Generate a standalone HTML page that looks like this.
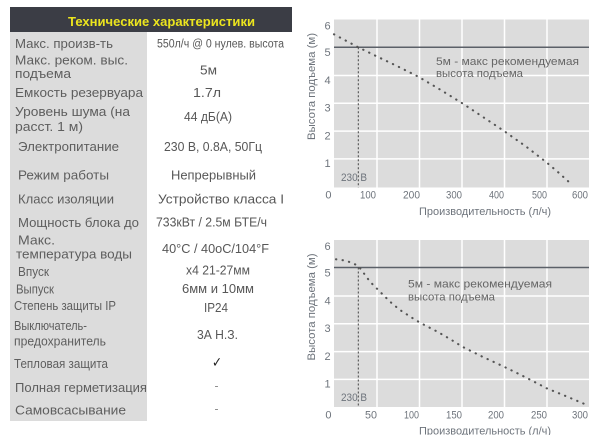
<!DOCTYPE html>
<html><head><meta charset="utf-8"><style>
html,body{margin:0;padding:0;background:#fff;}
svg{display:block;}
</style></head><body>
<svg width="600" height="435" viewBox="0 0 600 435" xmlns="http://www.w3.org/2000/svg" font-family="Liberation Sans, DejaVu Sans, sans-serif">
<rect x="0" y="0" width="600" height="435" fill="#ffffff"/>
<!-- table -->
<rect x="10" y="7" width="282" height="25" fill="#3b3d45"/>
<text x="68" y="26" font-size="13" font-weight="bold" fill="#ece51e" textLength="187" lengthAdjust="spacingAndGlyphs">Технические характеристики</text>
<rect x="10" y="32" width="137" height="389" fill="#dcdcdc"/>
<g fill="#5e5e5e" font-size="13">
<text x="15" y="47.8" textLength="98" lengthAdjust="spacingAndGlyphs">Макс. произв-ть</text>
<text x="15" y="64.5" textLength="113" lengthAdjust="spacingAndGlyphs">Макс. реком. выс.</text>
<text x="15" y="78" textLength="56" lengthAdjust="spacingAndGlyphs">подъема</text>
<text x="15" y="97.2" textLength="128" lengthAdjust="spacingAndGlyphs">Емкость резервуара</text>
<text x="15" y="116.2" textLength="115" lengthAdjust="spacingAndGlyphs">Уровень шума (на</text>
<text x="15" y="131.2" textLength="68" lengthAdjust="spacingAndGlyphs">расст. 1 м)</text>
<text x="18" y="151.2" textLength="101" lengthAdjust="spacingAndGlyphs">Электропитание</text>
<text x="18" y="179.5" textLength="91" lengthAdjust="spacingAndGlyphs">Режим работы</text>
<text x="18" y="203.5" textLength="96" lengthAdjust="spacingAndGlyphs">Класс изоляции</text>
<text x="18" y="226.8" textLength="121" lengthAdjust="spacingAndGlyphs">Мощность блока до</text>
<text x="18" y="244.5" textLength="37" lengthAdjust="spacingAndGlyphs">Макс.</text>
<text x="16" y="258.5" textLength="116" lengthAdjust="spacingAndGlyphs">температура воды</text>
</g>
<g fill="#5e5e5e" font-size="13">
<text x="18" y="276.2" textLength="31" lengthAdjust="spacingAndGlyphs">Впуск</text>
<text x="16" y="293.5" textLength="38" lengthAdjust="spacingAndGlyphs">Выпуск</text>
<text x="14" y="310.2" textLength="102" lengthAdjust="spacingAndGlyphs">Степень защиты IP</text>
<text x="14" y="330.2" textLength="73" lengthAdjust="spacingAndGlyphs">Выключатель-</text>
<text x="14" y="345.5" textLength="92" lengthAdjust="spacingAndGlyphs">предохранитель</text>
<text x="14" y="367.8" textLength="94" lengthAdjust="spacingAndGlyphs">Тепловая защита</text>
</g>
<g fill="#5e5e5e" font-size="13">
<text x="15" y="391.8" textLength="132" lengthAdjust="spacingAndGlyphs">Полная герметизация</text>
<text x="15" y="414.5" textLength="111" lengthAdjust="spacingAndGlyphs">Самовсасывание</text>
</g>
<g fill="#575757" font-size="12.5">
<text x="157" y="47.6" font-size="11.5" textLength="127" lengthAdjust="spacingAndGlyphs">550л/ч @ 0 нулев. высота</text>
<text x="200" y="74.5" textLength="17" lengthAdjust="spacingAndGlyphs">5м</text>
<text x="193" y="97.2" textLength="28" lengthAdjust="spacingAndGlyphs">1.7л</text>
<text x="184" y="121.2" textLength="48" lengthAdjust="spacingAndGlyphs">44 дБ(А)</text>
<text x="164" y="151.2" textLength="98" lengthAdjust="spacingAndGlyphs">230 В, 0.8А, 50Гц</text>
<text x="171" y="179.5" textLength="85" lengthAdjust="spacingAndGlyphs">Непрерывный</text>
<text x="158" y="203.5" textLength="126" lengthAdjust="spacingAndGlyphs">Устройство класса I</text>
<text x="156" y="226.5" textLength="111" lengthAdjust="spacingAndGlyphs">733кВт / 2.5м БТЕ/ч</text>
<text x="162" y="252.8" textLength="107" lengthAdjust="spacingAndGlyphs">40°C / 40oC/104°F</text>
<text x="186" y="274.5" textLength="64" lengthAdjust="spacingAndGlyphs">х4 21-27мм</text>
<text x="182" y="292.8" textLength="72" lengthAdjust="spacingAndGlyphs">6мм и 10мм</text>
<text x="204" y="311.8" textLength="24" lengthAdjust="spacingAndGlyphs">IP24</text>
<text x="197" y="338.8" textLength="41" lengthAdjust="spacingAndGlyphs">3А Н.З.</text>
<text x="212" y="367" font-size="14" fill="#222" textLength="10" lengthAdjust="spacingAndGlyphs">✓</text>
<text x="214.5" y="389.5" font-size="12" fill="#888">-</text>
<text x="214.5" y="412.5" font-size="12" fill="#888">-</text>
</g>

<!-- chart 1 -->
<g>
<rect x="334" y="19.5" width="255" height="168" fill="#dcdcdc"/>
<g stroke="#ffffff" stroke-width="1.5">
<line x1="377" y1="19.5" x2="377" y2="187.5"/>
<line x1="419.5" y1="19.5" x2="419.5" y2="187.5"/>
<line x1="462" y1="19.5" x2="462" y2="187.5"/>
<line x1="504.5" y1="19.5" x2="504.5" y2="187.5"/>
<line x1="547" y1="19.5" x2="547" y2="187.5"/>
<line x1="334" y1="75.5" x2="589" y2="75.5"/>
<line x1="334" y1="103.3" x2="589" y2="103.3"/>
<line x1="334" y1="131.1" x2="589" y2="131.1"/>
<line x1="334" y1="158.9" x2="589" y2="158.9"/>
</g>
<line x1="334" y1="47.3" x2="589" y2="47.3" stroke="#5b6068" stroke-width="1.5"/>
<line x1="358.3" y1="47.3" x2="358.3" y2="187.5" stroke="#444" stroke-width="1" stroke-dasharray="2 2"/>
<polyline points="334,34.3 358.3,47.3 376,56 398,66.5 418.3,76.7 440,89.5 462.3,103.3 483,117 504,131 526,146.5 546.7,162.5 559,173 571.7,184.5" fill="none" stroke="#555" stroke-width="2.1" stroke-linecap="round" stroke-dasharray="0.3 6.3"/>
<g fill="#6e747c" font-size="11">
<text x="324.5" y="29.5">6</text>
<text x="324.5" y="56">5</text>
<text x="324.5" y="84">4</text>
<text x="324.5" y="111.5">3</text>
<text x="324.5" y="139.3">2</text>
<text x="324.5" y="167">1</text>
<g text-anchor="end">
<text x="331.5" y="198.5">0</text>
<text x="376" y="198.5" textLength="16" lengthAdjust="spacingAndGlyphs">100</text>
<text x="420" y="198.5" textLength="17" lengthAdjust="spacingAndGlyphs">200</text>
<text x="462" y="198.5" textLength="16" lengthAdjust="spacingAndGlyphs">300</text>
<text x="504" y="198.5" textLength="15" lengthAdjust="spacingAndGlyphs">400</text>
<text x="547" y="198.5" textLength="15" lengthAdjust="spacingAndGlyphs">500</text>
<text x="588" y="198.5" textLength="16" lengthAdjust="spacingAndGlyphs">600</text>
</g>
<text x="341" y="180.8" textLength="26" lengthAdjust="spacingAndGlyphs">230 В</text>
<text x="419" y="215" textLength="132" lengthAdjust="spacingAndGlyphs">Производительность (л/ч)</text>
<text transform="translate(315,140) rotate(-90)" x="0" y="0" textLength="107" lengthAdjust="spacingAndGlyphs">Высота подъема (м)</text>
</g>
<g fill="#666" font-size="11">
<text x="436" y="65" textLength="143" lengthAdjust="spacingAndGlyphs">5м - макс рекомендуемая</text>
<text x="436" y="77" textLength="87" lengthAdjust="spacingAndGlyphs">высота подъема</text>
</g>
</g>

<!-- chart 2 -->
<g transform="translate(0,220.5)">
<rect x="334" y="19.5" width="255" height="167" fill="#dcdcdc"/>
<g stroke="#ffffff" stroke-width="1.5">
<line x1="377" y1="19.5" x2="377" y2="186.5"/>
<line x1="419.5" y1="19.5" x2="419.5" y2="186.5"/>
<line x1="462" y1="19.5" x2="462" y2="186.5"/>
<line x1="504.5" y1="19.5" x2="504.5" y2="186.5"/>
<line x1="547" y1="19.5" x2="547" y2="186.5"/>
<line x1="334" y1="75.5" x2="589" y2="75.5"/>
<line x1="334" y1="103.3" x2="589" y2="103.3"/>
<line x1="334" y1="131.1" x2="589" y2="131.1"/>
<line x1="334" y1="158.9" x2="589" y2="158.9"/>
</g>
<line x1="334" y1="47" x2="589" y2="47" stroke="#5b6068" stroke-width="1.5"/>
<line x1="358.3" y1="47" x2="358.3" y2="186.5" stroke="#444" stroke-width="1" stroke-dasharray="2 2"/>
<polyline points="336,38.8 345,40 353.3,42.8 359,46.2 364,53 370,61.2 380,71.2 390,81.2 400,89.5 410,96 420,102.2 437,111 450,118.5 462.3,126.2 483,136.5 504,146.2 525,156.5 546.7,167.8 568,176.5 589.3,185.5" fill="none" stroke="#555" stroke-width="2.1" stroke-linecap="round" stroke-dasharray="0.3 6.3"/>
<g fill="#6e747c" font-size="11">
<text x="324.5" y="29.5">6</text>
<text x="324.5" y="56">5</text>
<text x="324.5" y="84">4</text>
<text x="324.5" y="111.5">3</text>
<text x="324.5" y="139.3">2</text>
<text x="324.5" y="167">1</text>
<g text-anchor="end">
<text x="331.5" y="198">0</text>
<text x="377" y="198" textLength="12" lengthAdjust="spacingAndGlyphs">50</text>
<text x="419" y="198" textLength="15" lengthAdjust="spacingAndGlyphs">100</text>
<text x="462" y="198" textLength="16" lengthAdjust="spacingAndGlyphs">150</text>
<text x="504" y="198" textLength="16" lengthAdjust="spacingAndGlyphs">200</text>
<text x="547" y="198" textLength="16" lengthAdjust="spacingAndGlyphs">250</text>
<text x="588" y="198" textLength="16" lengthAdjust="spacingAndGlyphs">300</text>
</g>
<text x="341" y="180.3" textLength="26" lengthAdjust="spacingAndGlyphs">230 В</text>
<text x="419" y="214" textLength="132" lengthAdjust="spacingAndGlyphs">Производительность (л/ч)</text>
<text transform="translate(315,140) rotate(-90)" x="0" y="0" textLength="107" lengthAdjust="spacingAndGlyphs">Высота подъема (м)</text>
</g>
<g fill="#666" font-size="11">
<text x="408" y="67" textLength="144" lengthAdjust="spacingAndGlyphs">5м - макс рекомендуемая</text>
<text x="408" y="80" textLength="87" lengthAdjust="spacingAndGlyphs">высота подъема</text>
</g>
</g>
</svg>
</body></html>
